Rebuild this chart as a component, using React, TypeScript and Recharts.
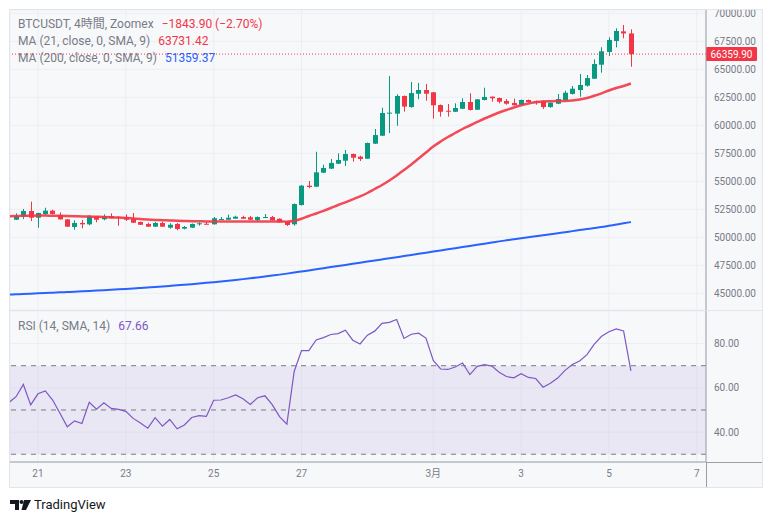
import React from 'react';
import { ComposedChart, Bar, Line, XAxis, YAxis, CartesianGrid, ReferenceLine, ReferenceArea } from 'recharts';

// 4h candle index: 0 = 21 Feb 00:00
const candleIdx = [-4, -3, -2, -1, 0, 1, 2, 3, 4, 5, 6, 7, 8, 9, 10, 11, 12, 13, 14, 15, 16, 17, 18, 19, 20, 21, 22, 23, 24, 25, 26, 27, 28, 29, 30, 31, 32, 33, 34, 35, 36, 37, 38, 39, 40, 41, 42, 43, 44, 45, 46, 47, 48, 49, 50, 51, 52, 53, 54, 55, 56, 57, 58, 59, 60, 61, 62, 63, 64, 65, 66, 67, 68, 69, 70, 71, 72, 73, 74, 75, 76, 77, 78, 79, 80, 81];

const opens = [null, 51570, 51840, 52350, 51750, 52080, 52380, 51990, 51600, 50920, 51280, 51160, 51880, 51610, 51900, 51810, 51810, 51630, 51370, 51190, 50950, 51280, 50860, 51190, 50770, 50860, 51160, 51210, 51160, 51570, 51570, 51660, 51810, 51790, 51540, 51750, 51810, 51660, 51390, 51160, 52880, 54610, 54520, 55770, 56130, 56570, 56840, 57440, 57200, 57020, 58360, 59070, 61040, 61040, 62620, 61630, 62820, 63150, 62950, 61810, 61300, 61210, 61480, 62080, 61390, 62260, 62560, 62440, 62170, 61990, 61840, 62260, 62170, 62170, 61630, 61930, 62260, 62800, 63150, 63540, 64160, 65410, 66550, 67530, 68390, 68204];
const highs = [null, 52140, 52530, 53180, 52200, 52640, 52460, 52230, 51630, 51520, 51550, 51990, 51900, 52050, 52140, 51860, 52050, 52170, 51410, 51300, 51370, 51390, 51250, 51280, 51010, 51230, 51340, 51370, 51810, 51810, 52020, 51930, 51930, 51900, 51860, 52080, 51900, 51680, 51410, 53020, 54670, 55030, 57640, 56480, 57000, 57500, 57800, 57480, 57290, 58460, 59670, 61570, 64400, 62770, 62660, 63870, 63780, 63690, 62970, 61860, 61900, 61960, 62410, 62860, 62350, 63360, 62570, 62480, 62350, 62380, 62300, 62300, 62210, 62210, 62040, 62800, 63090, 63510, 64580, 64490, 65890, 66970, 67860, 68660, 68960, 68570];
const lows = [null, 51540, 51630, 51460, 50860, 51990, 52040, 51590, 50920, 50680, 50800, 51070, 51340, 51520, 51680, 51030, 51460, 51280, 51100, 50920, 50920, 50920, 50770, 50630, 50710, 50830, 51040, 51140, 51140, 51570, 51570, 51660, 51660, 51540, 51390, 51720, 51500, 51320, 51010, 51040, 52840, 54380, 54490, 55740, 56100, 56550, 56370, 56750, 56810, 56990, 58330, 59040, 59310, 59960, 61220, 61570, 62320, 62200, 60590, 60770, 60770, 61190, 61460, 61320, 61370, 62230, 62110, 61960, 61840, 61770, 61810, 62040, 61840, 61460, 61570, 61900, 62210, 62750, 62550, 63450, 64140, 64700, 66190, 66960, 67770, 65230];
const closes = [null, 51900, 52350, 51750, 52170, 52380, 52080, 51600, 50950, 51280, 51160, 51880, 51570, 51900, 51700, 51720, 51570, 51300, 51120, 50950, 51280, 50950, 51120, 50740, 50920, 51190, 51250, 51160, 51700, 51630, 51750, 51840, 51660, 51570, 51810, 51810, 51520, 51340, 51100, 52970, 54610, 54490, 55800, 56190, 56640, 56900, 57440, 57110, 56990, 58420, 59130, 61100, 61130, 62620, 61670, 62880, 63150, 62820, 61790, 61210, 61210, 61550, 62080, 61370, 62320, 62530, 62410, 62110, 61930, 61790, 62260, 62080, 62080, 61630, 62020, 62350, 62910, 63270, 63600, 64220, 65470, 66610, 67620, 68420, 68204, 66359.9];

const ma21 = [51884, 51902, 51920, 51929, 51938, 51938, 51929, 51920, 51902, 51884, 51866, 51848, 51831, 51813, 51786, 51759, 51723, 51679, 51634, 51590, 51554, 51527, 51500, 51473, 51456, 51438, 51429, 51420, 51418, 51415, 51410, 51408, 51405, 51408, 51410, 51412, 51410, 51405, 51400, 51474, 51652, 51902, 52125, 52366, 52616, 52884, 53125, 53393, 53652, 53956, 54313, 54670, 55072, 55518, 56009, 56500, 57036, 57572, 58108, 58554, 58956, 59313, 59670, 59983, 60296, 60608, 60876, 61144, 61367, 61590, 61786, 61947, 62054, 62126, 62153, 62171, 62175, 62215, 62304, 62438, 62635, 62858, 63108, 63331, 63510, 63731.42];
const ma200 = [44882, 44910, 44938, 44967, 44995, 45024, 45054, 45084, 45115, 45146, 45178, 45211, 45245, 45280, 45317, 45355, 45394, 45434, 45476, 45519, 45564, 45611, 45660, 45710, 45763, 45818, 45875, 45934, 45995, 46059, 46125, 46194, 46266, 46340, 46417, 46497, 46581, 46667, 46757, 46850, 46948, 47046, 47144, 47242, 47340, 47438, 47536, 47634, 47732, 47830, 47928, 48026, 48124, 48222, 48323, 48424, 48525, 48626, 48727, 48828, 48929, 49030, 49131, 49232, 49333, 49434, 49535, 49636, 49728, 49819, 49911, 50002, 50094, 50185, 50277, 50368, 50460, 50551, 50643, 50734, 50826, 50920, 51030, 51140, 51250, 51359.37];
const rsi = [53.3, 56.0, 61.5, 52.3, 57.3, 58.6, 54.5, 48.5, 42.4, 45.1, 43.9, 53.5, 50.3, 53.2, 50.7, 50.3, 49.4, 46.2, 44.1, 41.8, 46.5, 42.7, 45.7, 41.5, 43.2, 46.6, 47.4, 47.1, 54.4, 54.5, 55.5, 56.8, 55.1, 52.5, 55.5, 56.4, 52.4, 47.0, 43.6, 67.4, 76.8, 76.8, 81.6, 82.7, 84.1, 84.5, 86.0, 81.5, 79.8, 83.8, 85.6, 89.1, 89.6, 90.9, 82.3, 84.2, 84.7, 82.5, 72.4, 68.5, 68.3, 69.4, 71.2, 66.0, 69.7, 70.5, 69.8, 67.0, 65.1, 64.5, 66.4, 64.7, 64.2, 60.3, 62.1, 64.4, 67.9, 70.5, 72.1, 75.0, 79.7, 83.3, 85.3, 86.6, 85.7, 67.66];

const dayTicks = [0, 12, 24, 36, 54, 66, 78, 90];
const dayLabels = ['21', '23', '25', '27', '3月', '3', '5', '7'];
const priceTicks = [45000, 47500, 50000, 52500, 55000, 57500, 60000, 62500, 65000, 67500, 70000];
const rsiTicks = [40, 60, 80];
const rsiLevels = [70, 50, 30];
const lastPrice = 66359.9;

const rows = candleIdx.map((t, k) => ({
  t,
  o: opens[k],
  h: highs[k],
  l: lows[k],
  c: closes[k],
  range: opens[k] == null ? null : [lows[k], highs[k]],
  ma21: ma21[k],
  ma200: ma200[k],
  rsi: rsi[k],
}));

const X_DOMAIN: [number, number] = [-3.825, 91.26];
const UP = '#089981';
const DOWN = '#f23645';
const AXIS_TEXT = '#787b86';
const GRID = '#eceef3';
const AXIS_LINE = '#9a9da6';
const FONT = "Roboto, 'Noto Sans CJK JP', sans-serif";

const Candle = (props: any) => {
  const { x, y, width, height, payload } = props;
  if (!payload || payload.o == null) return null;
  const top = Math.min(y, y + height);
  const bot = Math.max(y, y + height);
  const { o, h, l, c } = payload;
  const span = h - l || 1;
  const py = (v: number) => top + ((h - v) / span) * (bot - top);
  const color = c >= o ? UP : DOWN;
  const cx = Math.round(x + width / 2) + 0.5;
  const bt = py(Math.max(o, c));
  const bb = py(Math.min(o, c));
  return (
    <g>
      <line x1={cx} x2={cx} y1={top} y2={bot} stroke={color} strokeWidth={1} />
      <rect x={cx - 2.5} y={bt} width={5} height={Math.max(1, bb - bt)} fill={color} />
    </g>
  );
};

const PriceTag = (props: any) => {
  const { viewBox } = props;
  if (!viewBox) return null;
  const x = viewBox.x + viewBox.width;
  const y = viewBox.y;
  return (
    <g>
      <rect x={x} y={y - 7} width={51} height={14} fill={DOWN} rx={1} />
      <text x={x + 25.5} y={y} dy="0.35em" textAnchor="middle" fill="#ffffff" fontSize={10} fontFamily={FONT}>
        {lastPrice.toFixed(2)}
      </text>
    </g>
  );
};

const legendGray = '#787b86';

export default function App() {
  return (
    <div style={{ position: 'absolute', left: 0, top: 0, width: 772, height: 523, background: '#ffffff', fontFamily: FONT, overflow: 'hidden' }}>
      <div style={{ position: 'absolute', left: 9, top: 9, width: 754, height: 479, boxSizing: 'border-box', border: '1px solid #e3e5ea', background: '#f7f8fa' }} />

      <div style={{ position: 'absolute', left: 10, top: 10 }}>
        <ComposedChart width={752} height={300} data={rows} margin={{ top: 0, right: 0, bottom: 0, left: 0 }}>
          <CartesianGrid stroke={GRID} strokeWidth={1} />
          <XAxis type="number" dataKey="t" domain={X_DOMAIN} ticks={dayTicks} allowDataOverflow hide />
          <YAxis
            orientation="right"
            width={56}
            domain={[43509, 70296]}
            ticks={priceTicks}
            allowDataOverflow
            tickLine={false}
            axisLine={{ stroke: AXIS_LINE }}
            tick={{ fill: AXIS_TEXT, fontSize: 10, fontFamily: FONT }}
            tickFormatter={(v: number) => v.toFixed(2)}
            interval={0}
          />
          <Line dataKey="ma200" stroke="#2962ff" strokeWidth={2} dot={false} type="monotone" isAnimationActive={false} />
          <Line dataKey="ma21" stroke="#f23645" strokeWidth={2.5} strokeOpacity={0.9} dot={false} type="monotone" isAnimationActive={false} />
          <Bar dataKey="range" barSize={5} shape={<Candle />} isAnimationActive={false} />
          <ReferenceLine y={lastPrice} stroke={DOWN} strokeDasharray="1 2" label={<PriceTag />} />
        </ComposedChart>
      </div>

      <div style={{ position: 'absolute', left: 10, top: 310, width: 752, height: 1, background: '#e3e5ea' }} />

      <div style={{ position: 'absolute', left: 10, top: 311 }}>
        <ComposedChart width={752} height={176} data={rows} margin={{ top: 0, right: 0, bottom: 0, left: 0 }}>
          <CartesianGrid stroke={GRID} strokeWidth={1} />
          <ReferenceArea y1={rsiLevels[2]} y2={rsiLevels[0]} fill="#7e57c2" fillOpacity={0.1} stroke="none" ifOverflow="hidden" />
          {rsiLevels.map((lv) => (
            <ReferenceLine key={lv} y={lv} stroke="#787b86" strokeDasharray="5 5" strokeWidth={1} />
          ))}
          <XAxis
            type="number"
            dataKey="t"
            domain={X_DOMAIN}
            ticks={dayTicks}
            allowDataOverflow
            height={25}
            interval={0}
            tickLine={false}
            axisLine={{ stroke: AXIS_LINE }}
            tick={{ fill: AXIS_TEXT, fontSize: 10, fontFamily: FONT }}
            tickFormatter={(v: number) => dayLabels[dayTicks.indexOf(v)]}
          />
          <YAxis
            orientation="right"
            width={56}
            domain={[26.5, 94.7]}
            ticks={rsiTicks}
            allowDataOverflow
            tickLine={false}
            axisLine={{ stroke: AXIS_LINE }}
            tick={{ fill: AXIS_TEXT, fontSize: 10, fontFamily: FONT }}
            tickFormatter={(v: number) => v.toFixed(2)}
            interval={0}
          />
          <Line dataKey="rsi" stroke="#7e57c2" strokeWidth={1.2} dot={false} type="linear" isAnimationActive={false} />
        </ComposedChart>
      </div>

      <div style={{ position: 'absolute', left: 706, top: 462, width: 1, height: 25, background: AXIS_LINE }} />
      <div style={{ position: 'absolute', left: 706, top: 462, width: 56, height: 1, background: AXIS_LINE }} />

      <div style={{ position: 'absolute', left: 18, top: 16, fontSize: 12, lineHeight: '17px', whiteSpace: 'nowrap' }}>
        <div>
          <span style={{ color: legendGray }}>BTCUSDT, 4時間, Zoomex</span>
          <span style={{ color: DOWN, marginLeft: 8 }}>−1843.90 (−2.70%)</span>
        </div>
        <div>
          <span style={{ color: legendGray }}>MA (21, close, 0, SMA, 9)</span>
          <span style={{ color: DOWN, marginLeft: 8 }}>{ma21[ma21.length - 1].toFixed(2)}</span>
        </div>
        <div>
          <span style={{ color: legendGray }}>MA (200, close, 0, SMA, 9)</span>
          <span style={{ color: '#2962ff', marginLeft: 8 }}>{ma200[ma200.length - 1].toFixed(2)}</span>
        </div>
      </div>

      <div style={{ position: 'absolute', left: 18, top: 318, fontSize: 12, lineHeight: '17px', whiteSpace: 'nowrap' }}>
        <span style={{ color: legendGray }}>RSI (14, SMA, 14)</span>
        <span style={{ color: '#7e57c2', marginLeft: 8 }}>{rsi[rsi.length - 1].toFixed(2)}</span>
      </div>

      <div style={{ position: 'absolute', left: 10, top: 497, display: 'flex', alignItems: 'center' }}>
        <svg width={21} height={10} viewBox="0 0 21 10">
          <path d="M0 0 H9 V10 H5 V4 H0 Z" fill="#131722" />
          <circle cx={11.5} cy={2} r={2} fill="#131722" />
          <path d="M14 0 H21 L16 10 H11.5 Z" fill="#131722" />
        </svg>
        <span style={{ marginLeft: 3, fontSize: 13, color: '#131722', lineHeight: '16px' }}>TradingView</span>
      </div>
    </div>
  );
}
